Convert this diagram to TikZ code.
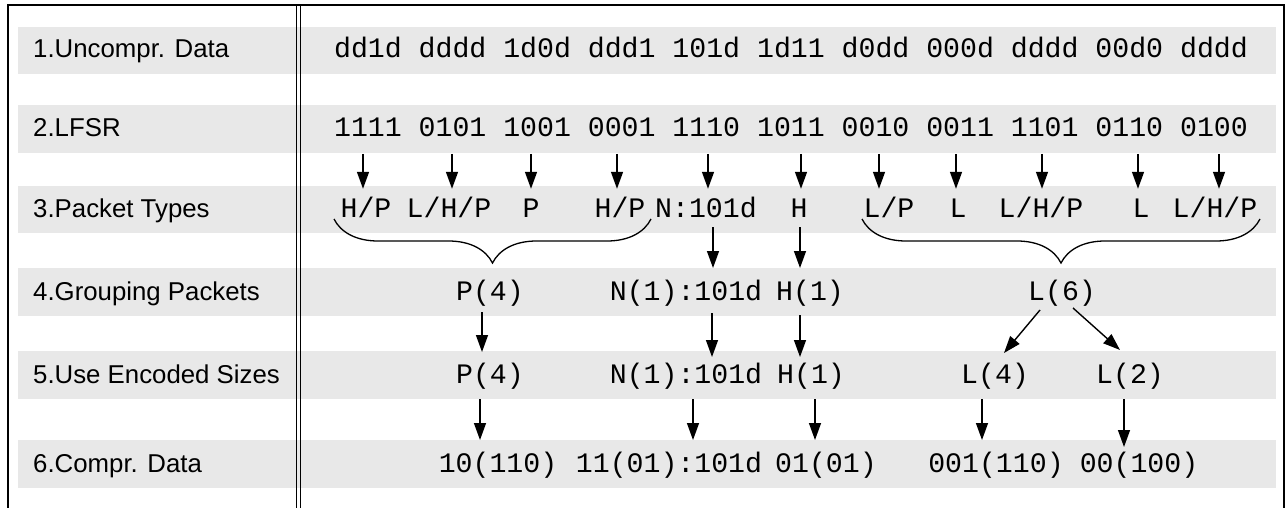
\documentclass[tikz,border=0pt]{standalone}
\usepackage{fontspec}
\newfontfamily\lblfont{Liberation Sans}
\newfontfamily\monofnt{Liberation Mono}
\usetikzlibrary{arrows.meta,calc,decorations.pathreplacing}
\definecolor{bandgray}{HTML}{E8E8E8}
\begin{document}
\begin{tikzpicture}[x=1pt,y=-1pt,
  lbl/.style={font={\lblfont\fontsize{25.8pt}{30pt}\selectfont}, anchor=base west, inner sep=0pt},
  mono/.style={font={\monofnt\fontsize{28.2pt}{32pt}\selectfont}, anchor=base, inner sep=0pt, text height=29pt, text depth=10pt},
  arr/.style={line width=1.4pt, -{Triangle[length=17pt,width=12pt]}},
  frameline/.style={line width=1.6pt},
  bracestyle/.style={line width=1.3pt, decorate, decoration={brace, mirror, amplitude=44pt}}]
\useasboundingbox (0,0) rectangle (1286,508);
% bands
\foreach \t/\b in {27/74,105/153,186/233,268/316,351/399,440/488}
  \fill[bandgray] (18,\t) rectangle (1276,\b);
% frame
\draw[frameline] (8,508) -- (8,5) -- (1284,5) -- (1284,508);
\draw[frameline] (296.5,5) -- (296.5,508);
\draw[frameline] (300.5,5) -- (300.5,508);
% labels
\node[lbl] (lab1) at (33,58) {1.Uncompr. Data};
\node[lbl] (lab2) at (33,137) {2.LFSR};
\node[lbl] (lab3) at (33,218) {3.Packet Types};
\node[lbl] (lab4) at (33,300) {4.Grouping Packets};
\node[lbl] (lab5) at (33,383) {5.Use Encoded Sizes};
\node[lbl] (lab6) at (33,472) {6.Compr. Data};
% rows 1,2
\node[mono] (r1) at (791,58) {dd1d dddd 1d0d ddd1 101d 1d11 d0dd 000d dddd 00d0 dddd};
\node[mono] (r2) at (791,137) {1111 0101 1001 0001 1110 1011 0010 0011 1101 0110 0100};
% row 3
\node[mono] (t3a) at (366,218) {H/P};
\node[mono] (t3b) at (449,218) {L/H/P};
\node[mono] (t3c) at (531,218) {P};
\node[mono] (t3d) at (620,218) {H/P};
\node[mono] (t3e) at (706,218) {N:101d};
\node[mono] (t3f) at (799,218) {H};
\node[mono] (t3g) at (889,218) {L/P};
\node[mono] (t3h) at (958,218) {L};
\node[mono] (t3i) at (1041,218) {L/H/P};
\node[mono] (t3j) at (1141,218) {L};
\node[mono] (t3k) at (1215,218) {L/H/P};
% row 4
\node[mono] (t4a) at (490,300) {P(4)};
\node[mono] (t4b) at (686,300) {N(1):101d};
\node[mono] (t4c) at (810,300) {H(1)};
\node[mono] (t4d) at (1062,300) {L(6)};
% row 5
\node[mono] (t5a) at (490,383) {P(4)};
\node[mono] (t5b) at (686,383) {N(1):101d};
\node[mono] (t5c) at (811,383) {H(1)};
\node[mono] (t5d) at (995,383) {L(4)};
\node[mono] (t5e) at (1130,383) {L(2)};
% row 6
\node[mono] (t6a) at (498,472) {10(110)};
\node[mono] (t6b) at (669,472) {11(01):101d};
\node[mono] (t6c) at (826,472) {01(01)};
\node[mono] (t6d) at (996,472) {001(110)};
\node[mono] (t6e) at (1139,472) {00(100)};
% arrows row 2 -> 3
\foreach \n/\dx in {t3a/-3,t3b/3,t3c/0,t3d/-3,t3e/2,t3f/2,t3g/-10,t3h/-2,t3i/1,t3j/-3,t3k/4}
  \draw[arr] ($(\n.north |- r2.base)+(\dx,17)$) -- ($(\n.north)+(\dx,0)$);
% braces
\draw[bracestyle] (334,219) -- (651,219);
\draw[bracestyle] (862,219) -- (1260,219);
% arrows row 3 -> 4
\draw[arr] ($(t3e.base)+(7,9)$) -- ($(t4b.base -| t3e.base)+(7,-32)$);
\draw[arr] ($(t3f.base)+(1,9)$) -- ($(t4c.base -| t3f.base)+(1,-32)$);
% arrows row 4 -> 5
\draw[arr] ($(t4a.base)+(-8,12)$) -- ($(t5a.base)+(-8,-31)$);
\draw[arr] ($(t4b.base)+(26,13)$) -- ($(t5b.base)+(26,-26)$);
\draw[arr] ($(t4c.base)+(-10,15)$) -- ($(t5c.base)+(-11,-26)$);
\draw[arr] ($(t4d.base)+(-22,10)$) -- ($(t5d.base)+(9,-30)$);
\draw[arr] ($(t4d.base)+(11,8)$) -- ($(t5e.base)+(-10,-33)$);
% arrows row 5 -> 6
\draw[arr] ($(t5a.base)+(-10,16)$) -- ($(t6a.base -| t5a.base)+(-10,-32)$);
\draw[arr] ($(t5b.base)+(7,16)$) -- ($(t6b.base -| t5b.base)+(7,-32)$);
\draw[arr] ($(t5c.base)+(4,16)$) -- ($(t6c.base -| t5c.base)+(4,-32)$);
\draw[arr] ($(t5d.base)+(-13,16)$) -- ($(t6d.base -| t5d.base)+(-13,-32)$);
\draw[arr] ($(t5e.base)+(-6,16)$) -- ($(t6e.base -| t5e.base)+(-6,-25)$);
\end{tikzpicture}
\end{document}
